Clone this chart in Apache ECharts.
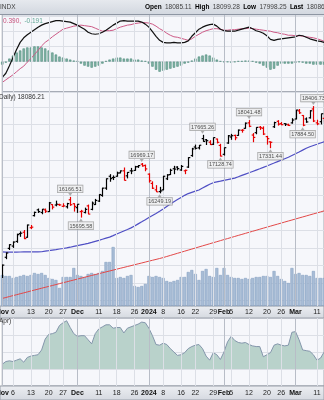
<!DOCTYPE html>
<html><head><meta charset="utf-8">
<script src="https://cdn.jsdelivr.net/npm/echarts@6/dist/echarts.min.js"></script>
<style>html,body{margin:0;padding:0;background:#fff}#c{width:324px;height:400px}</style>
</head><body><div id="c"></div>
<script>
const dates = ['2023-11-01','2023-11-02','2023-11-03',
'2023-11-06','2023-11-07','2023-11-08','2023-11-09','2023-11-10',
'2023-11-13','2023-11-14','2023-11-15','2023-11-16','2023-11-17',
'2023-11-20','2023-11-21','2023-11-22','2023-11-24',
'2023-11-27','2023-11-28','2023-11-29','2023-11-30','2023-12-01',
'2023-12-04','2023-12-05','2023-12-06','2023-12-07','2023-12-08',
'2023-12-11','2023-12-12','2023-12-13','2023-12-14','2023-12-15',
'2023-12-18','2023-12-19','2023-12-20','2023-12-21','2023-12-22',
'2023-12-26','2023-12-27','2023-12-28','2023-12-29',
'2024-01-02','2024-01-03','2024-01-04','2024-01-05',
'2024-01-08','2024-01-09','2024-01-10','2024-01-11','2024-01-12',
'2024-01-16','2024-01-17','2024-01-18','2024-01-19',
'2024-01-22','2024-01-23','2024-01-24','2024-01-25','2024-01-26',
'2024-01-29','2024-01-30','2024-01-31','2024-02-01','2024-02-02',
'2024-02-05','2024-02-06','2024-02-07','2024-02-08','2024-02-09',
'2024-02-12','2024-02-13','2024-02-14','2024-02-15','2024-02-16',
'2024-02-20','2024-02-21','2024-02-22','2024-02-23',
'2024-02-26','2024-02-27','2024-02-28','2024-02-29','2024-03-01',
'2024-03-04','2024-03-05','2024-03-06','2024-03-07','2024-03-08',
'2024-03-11','2024-03-12','2024-03-13'];

const opens = [14440,14830,15020,15070,15170,15340,15370,15260,15470,15740,
15870,15810,15870,15830,15990,15980,15990,15950,15940,16100,
16010,15920,15830,15810,15960,15880,15990,16070,16200,16370,
16650,16620,16650,16730,16780,16660,16780,16790,16880,16940,
16910,16700,16480,16330,16290,16330,16590,16690,16830,16870,
16800,16780,16870,17150,17360,17340,17570,17540,17480,17430,
17560,17400,17180,17460,17610,17650,17650,17780,17830,17970,
17660,17720,17860,17830,17620,17490,17870,18010,17950,17950,
17920,17970,18070,18280,18160,18070,18100,18330,17970,18000,18085.11];
const highs = [14680,14935,15110,15170,15340,15390,15420,15540,15530,15830,
15900,15890,15900,16050,16000,16080,16010,16020,16030,16166.51,
16020,16000,15870,15920,15990,16060,16120,16230,16380,16600,
16700,16670,16760,16790,16860,16750,16850,16900,16920,16969.17,
16930,16720,16530,16440,16400,16660,16700,16830,16900,16890,
16920,16810,17110,17340,17420,17410,17665.26,17560,17530,17600,
17570,17440,17350,17660,17690,17670,17800,17810,17980,18041.48,
17710,17860,17890,17880,17640,17500,18000,18040,17990,17960,
17950,18090,18310,18330,18170,18110,18300,18406.73,18050,18210,18099.28];
const lows = [14400,14790,14985,15030,15140,15270,15220,15250,15440,15720,
15800,15770,15800,15820,15880,15950,15960,15930,15900,15960,
15830,15800,15695.58,15790,15770,15860,15980,16050,16170,16330,
16520,16560,16640,16720,16550,16600,16700,16780,16850,16880,
16770,16500,16350,16280,16249.19,16320,16560,16680,16700,16790,
16780,16700,16850,17120,17300,17300,17490,17410,17410,17410,
17450,17128.74,17150,17440,17540,17530,17640,17720,17820,17860,
17480,17680,17790,17660,17420,17331.44,17840,17900,17910,17890,
17890,17950,18060,18200,17884.50,17970,18080,17990,17910,17930,17998.25];
const closes = [14665,14921,15099,15156,15318,15349,15231,15530,15482,15812,
15830,15885,15839,16028,15932,15998,15982,15960,16012,15987,
15948,15997,15839,15880,15774,16023,16085,16221,16370,16591,
16594,16623,16727,16778,16553,16742,16777,16878,16906,16898,
16826,16543,16368,16283,16305,16650,16681,16792,16821,16833,
16886,16792,17100,17314,17329,17405,17499,17518,17421,17596,
17477,17137,17344,17642,17643,17592,17785,17783,17962,17882,
17600,17854,17845,17685,17569,17478,17976,17937,17923,17936,
17904,18043,18302,18229,17910,17994,18282,18018,17945,18206,18086.21];
const volumes = [1550,1500,1500,1400,1450,1500,1550,1500,1550,1650,
1600,1650,1550,1400,1350,1300,900,1450,1450,1450,
1900,1550,1500,1450,1600,1650,1600,1650,1750,2200,
2200,2950,1400,1450,1400,1500,1550,1000,950,1000,
1100,1500,1450,1500,1450,1400,1250,1200,1250,1300,
1450,1450,1700,1800,1600,1300,1750,1850,1500,1450,
1900,1550,1900,1550,1450,1400,1400,1350,1400,1350,
1400,1450,1450,1500,1500,1450,1750,1500,1350,1250,
1150,1900,1600,1650,1550,1550,1500,1750,1400,1400,1400];
const ma50 = [14943,14941,14940,14940,14941,14942,14943,14944,14944,14945,
14946,14948,14960,14971,14983,14994,15006,15017,15029,15045,
15062,15078,15095,15111,15128,15148,15171,15194,15218,15241,
15264,15297,15331,15365,15399,15432,15467,15507,15555,15601,
15648,15696,15743,15789,15836,15887,15945,16001,16054,16104,
16153,16202,16243,16271,16299,16327,16372,16417,16462,16498,
16516,16534,16553,16571,16589,16607,16638,16670,16702,16733,
16765,16797,16829,16862,16896,16932,16967,17003,17037,17073,
17109,17152,17195,17239,17284,17328,17368,17398,17428,17459,17489];
const ma200 = [13984,14002,14021,14040,14058,14077,14095,14114,14133,14152,
14170,14189,14207,14226,14244,14263,14282,14301,14319,14338,
14356,14375,14393,14412,14431,14450,14468,14487,14505,14524,
14542,14561,14580,14599,14617,14636,14654,14673,14692,14710,
14729,14748,14767,14785,14804,14824,14847,14869,14892,14915,
14937,14960,14983,15005,15028,15051,15074,15096,15119,15142,
15164,15187,15210,15232,15255,15278,15301,15323,15346,15369,
15391,15414,15437,15460,15482,15505,15528,15550,15573,15596,
15619,15641,15664,15687,15709,15732,15755,15778,15800,15823,15846];
const macdLine = [-0.31,-0.23,-0.08,0.08,0.24,0.38,0.47,0.53,0.58,0.63,
0.68,0.72,0.75,0.77,0.79,0.81,0.81,0.80,0.79,0.78,
0.75,0.72,0.68,0.64,0.58,0.55,0.54,0.55,0.58,0.62,
0.67,0.72,0.76,0.80,0.81,0.80,0.80,0.80,0.80,0.78,
0.74,0.68,0.59,0.50,0.42,0.38,0.37,0.37,0.38,0.37,
0.37,0.38,0.41,0.50,0.57,0.64,0.68,0.71,0.73,0.74,
0.70,0.64,0.61,0.60,0.60,0.60,0.62,0.64,0.66,0.68,
0.65,0.61,0.59,0.56,0.51,0.44,0.42,0.44,0.45,0.46,
0.47,0.48,0.49,0.52,0.51,0.48,0.45,0.43,0.41,0.40,0.38];
const signalLine = [-0.41,-0.36,-0.31,-0.26,-0.20,-0.14,-0.09,-0.01,0.06,0.14,
0.22,0.31,0.38,0.43,0.49,0.54,0.59,0.64,0.66,0.68,
0.70,0.71,0.72,0.71,0.70,0.69,0.66,0.63,0.60,0.61,
0.61,0.62,0.65,0.68,0.70,0.72,0.73,0.75,0.76,0.77,
0.77,0.76,0.74,0.70,0.65,0.61,0.56,0.52,0.49,0.48,
0.46,0.44,0.42,0.45,0.50,0.54,0.58,0.61,0.63,0.65,
0.65,0.64,0.62,0.62,0.63,0.63,0.64,0.65,0.65,0.66,
0.65,0.64,0.63,0.62,0.61,0.60,0.58,0.57,0.55,0.54,
0.52,0.52,0.51,0.51,0.50,0.49,0.48,0.47,0.45,0.43,0.40];
const histogram = [-0.06,-0.02,0.06,0.12,0.18,0.22,0.26,0.28,0.28,0.30,
0.30,0.28,0.26,0.22,0.18,0.14,0.10,0.08,0.06,0.04,
0.02,0.01,-0.04,-0.08,-0.10,-0.12,-0.10,-0.08,-0.04,0.01,
0.04,0.06,0.08,0.08,0.06,0.06,0.06,0.04,0.04,0.02,
0.01,-0.04,-0.10,-0.16,-0.20,-0.18,-0.16,-0.14,-0.12,-0.10,
-0.08,-0.04,-0.02,0.02,0.06,0.10,0.12,0.14,0.12,0.08,
0.04,0.01,-0.01,-0.01,-0.02,-0.01,0.01,0.01,0.02,0.02,
0.01,-0.02,-0.04,-0.08,-0.12,-0.16,-0.14,-0.08,-0.04,-0.04,
-0.04,-0.04,-0.02,-0.01,-0.02,-0.04,-0.04,-0.06,-0.06,-0.06,-0.06];
const lowerValues = [7,11,12,11,13,15,10,17,19,20,
21,28,44,51,52,54,64,68,71,61,
52,48,49,49,43,37,52,59,62,65,
65,60,61,61,53,60,62,64,66,69,
68,60,49,36,35,38,36,30,25,20,
21,24,30,33,35,36,30,19,13,24,
21,14,25,40,48,42,39,38,39,36,
34,33,33,18,21,24,35,37,35,34,
35,54,55,43,28,27,26,21,13,16,25];
const tickDates = ['2023-11-01','2023-11-06','2023-11-13','2023-11-20','2023-11-27','2023-12-01','2023-12-11','2023-12-18','2023-12-26','2024-01-02','2024-01-08','2024-01-16','2024-01-22','2024-01-29','2024-02-01','2024-02-05','2024-02-12','2024-02-20','2024-02-26','2024-03-01','2024-03-11'];
const tickTexts = ['Nov','6','13','20','27','Dec','11','18','26','2024','8','16','22','29','Feb','5','12','20','26','Mar','11'];
const monthDates = ['2023-11-01','2023-12-01','2024-01-02','2024-02-01','2024-03-01'];
const peakLabels = [['2023-11-29',16166.51],['2023-12-28',16969.17],['2024-01-24',17665.26],['2024-02-12',18041.48],['2024-03-08',18406.73]];
const troughLabels = [['2023-12-04',15695.58],['2024-01-05',16249.19],['2024-01-31',17128.74],['2024-02-21',17331.44],['2024-03-05',17884.50]];
const quoteLabels = ['Open','High','Low','Last'];
const macdLegend = ['0.390,', '-0.191'];

const FONT = '"Liberation Sans", Arial, sans-serif';
const tickMap = {};
tickDates.forEach((d, i) => { tickMap[d] = tickTexts[i]; });
const isMonth = d => monthDates.indexOf(d) >= 0;
const isWeek = d => tickMap[d] !== undefined && !isMonth(d);

const GL = 2.27, GW = 321.84;
const BG = '#f6f7fb', GRID_C = '#dcdfe6', MONTH_C = '#b8bdc7', BORDER_C = '#8d939e';

function xAx(gridIndex, kind, labels, margin) {
  return {
    type: 'category', gridIndex, data: dates, boundaryGap: false, z: 5,
    axisLine: {show: false}, axisTick: {show: false},
    axisLabel: labels ? {
      show: true, margin, fontSize: 7, fontFamily: FONT, color: '#222',
      interval: (i, v) => tickMap[v] !== undefined,
      formatter: v => isMonth(v) ? '{b|' + tickMap[v] + '}' : (tickMap[v] || ''),
      rich: {b: {fontWeight: 'bold', fontSize: 7, fontFamily: FONT, color: '#111'}}
    } : {show: false},
    splitLine: kind ? {
      show: true,
      interval: (i, v) => kind === 'month' ? isMonth(v) : isWeek(v),
      lineStyle: {color: kind === 'month' ? MONTH_C : GRID_C, width: 1}
    } : {show: false}
  };
}

const ohlcData = dates.map((d, i) => [i, opens[i], highs[i], lows[i], closes[i], (i > 0 && closes[i] < closes[i - 1]) ? 1 : 0]);

function renderOHLC(params, api) {
  const i = api.value(0);
  const hi = api.coord([i, api.value(2)]);
  const lo = api.coord([i, api.value(3)]);
  const op = api.coord([i, api.value(1)]);
  const cl = api.coord([i, api.value(4)]);
  const x = Math.round(hi[0]) + 0.5;
  const color = api.value(5) ? '#e80000' : '#000000';
  const s = {stroke: color, lineWidth: 1.2};
  return {type: 'group', children: [
    {type: 'line', shape: {x1: x, y1: hi[1], x2: x, y2: lo[1]}, style: s},
    {type: 'line', shape: {x1: x - 1.8, y1: op[1], x2: x, y2: op[1]}, style: s},
    {type: 'line', shape: {x1: x, y1: cl[1], x2: x + 1.8, y2: cl[1]}, style: s}
  ]};
}

const labelStyle = {
  show: true, fontSize: 5.5, fontFamily: FONT, color: '#222',
  backgroundColor: '#eeeeef', borderColor: '#8a8a8a', borderWidth: 0.6,
  padding: [1, 1, 0, 1], lineHeight: 6,
  formatter: p => p.value[1].toFixed(2)
};

const n = closes.length - 1;
const quoteValues = [opens[n], highs[n], lows[n], closes[n]].map(v => v.toFixed(2));
const headerText = quoteLabels.map((l, i) => '{b|' + l + '} {v|' + quoteValues[i] + '}').join(' ');

const option = {
  animation: false,
  textStyle: {fontFamily: FONT},
  grid: [
    {left: GL, width: GW, top: 15, height: 77, show: true, backgroundColor: BG, borderColor: BORDER_C, borderWidth: 1, outerBoundsMode: 'none'},
    {left: GL, width: GW, top: 92, height: 214, show: true, backgroundColor: BG, borderColor: BORDER_C, borderWidth: 1, outerBoundsMode: 'none'},
    {left: GL, width: GW, top: 92, height: 208.6, show: false, outerBoundsMode: 'none'},
    {left: GL, width: GW, top: 318, height: 68, show: true, backgroundColor: BG, borderColor: BORDER_C, borderWidth: 1, outerBoundsMode: 'none'}
  ],
  xAxis: [
    xAx(0, 'week', false),
    xAx(1, 'week', true, 3),
    xAx(2, null, false),
    xAx(3, 'week', true, 4),
    xAx(0, 'month', false),
    xAx(1, 'month', false),
    xAx(3, 'month', false)
  ],
  yAxis: [
    {type: 'value', gridIndex: 0, min: -0.6, max: 0.92, interval: 0.3,
      axisLine: {show: false}, axisTick: {show: false}, axisLabel: {show: false},
      splitLine: {show: true, lineStyle: {color: GRID_C}}},
    {type: 'log', logBase: 10, gridIndex: 1, min: 13833, max: 18780, show: false},
    {type: 'value', gridIndex: 1, min: 0, max: 10700, show: false},
    {type: 'value', gridIndex: 2, min: 0, max: 11.85, interval: 1,
      axisLine: {show: false}, axisTick: {show: false}, axisLabel: {show: false},
      splitLine: {show: true, lineStyle: {color: GRID_C}}},
    {type: 'value', gridIndex: 3, min: -25, max: 75, interval: 25,
      axisLine: {show: false}, axisTick: {show: false}, axisLabel: {show: false},
      splitLine: {show: true, lineStyle: {color: GRID_C}}}
  ],
  series: [
    {type: 'bar', name: 'Histogram', xAxisIndex: 0, yAxisIndex: 0, data: histogram, barWidth: 2.4,
      itemStyle: {color: '#82b4a6', borderColor: '#4f8c7c', borderWidth: 0.6}, silent: true},
    {type: 'line', name: 'MACD', xAxisIndex: 0, yAxisIndex: 0, data: macdLine, symbol: 'none',
      lineStyle: {color: '#111', width: 1.2}, silent: true, z: 4},
    {type: 'line', name: 'Signal', xAxisIndex: 0, yAxisIndex: 0, data: signalLine, symbol: 'none',
      lineStyle: {color: '#cc5a86', width: 1}, silent: true, z: 3},
    {type: 'bar', name: 'Volume', xAxisIndex: 1, yAxisIndex: 2, data: volumes, barWidth: 3,
      itemStyle: {color: '#a8bdd6', borderColor: '#7d99bc', borderWidth: 0.5}, silent: true},
    {type: 'line', name: 'MA200', xAxisIndex: 1, yAxisIndex: 1, data: ma200, symbol: 'none',
      lineStyle: {color: '#e24848', width: 1}, silent: true, z: 3},
    {type: 'line', name: 'MA50', xAxisIndex: 1, yAxisIndex: 1, data: ma50, symbol: 'none',
      lineStyle: {color: '#4f4fc4', width: 1.2}, silent: true, z: 3},
    {type: 'custom', name: 'Price', xAxisIndex: 1, yAxisIndex: 1, data: ohlcData,
      encode: {x: 0, y: [1, 2, 3, 4]}, renderItem: renderOHLC, clip: true, silent: true, z: 5},
    {type: 'scatter', name: 'Peaks', xAxisIndex: 1, yAxisIndex: 1, data: peakLabels,
      symbol: 'triangle', symbolRotate: 180, symbolSize: [4, 3], symbolOffset: [0, -2.5],
      itemStyle: {color: '#9a9a9a'}, silent: true, z: 6,
      label: Object.assign({position: 'top', distance: 0.5}, labelStyle)},
    {type: 'scatter', name: 'Troughs', xAxisIndex: 1, yAxisIndex: 1, data: troughLabels,
      symbol: 'triangle', symbolSize: [4, 3], symbolOffset: [0, 2.5],
      itemStyle: {color: '#9a9a9a'}, silent: true, z: 6,
      label: Object.assign({position: 'bottom', distance: 0.5}, labelStyle)},
    {type: 'line', name: 'Lower', xAxisIndex: 3, yAxisIndex: 4, data: lowerValues, symbol: 'none',
      lineStyle: {color: '#8496ab', width: 1},
      areaStyle: {color: '#b9d2cb', opacity: 1, origin: 0}, silent: true}
  ],
  graphic: [
    {type: 'rect', z: 1, shape: {x: 0, y: 0, width: 324, height: 14},
      style: {fill: {type: 'linear', x: 0, y: 0, x2: 0, y2: 1, colorStops: [{offset: 0, color: '#e6e9ee'}, {offset: 1, color: '#d3d8e0'}]}}},
    {type: 'line', z: 2, shape: {x1: 0, y1: 14.5, x2: 324, y2: 14.5}, style: {stroke: '#8e96a3', lineWidth: 1}},
    {type: 'text', z: 10, style: {text: 'INDX', x: 0, y: 7, verticalAlign: 'middle', font: '6.5px ' + FONT, fill: '#444'}},
    {type: 'text', z: 10, style: {text: headerText, x: 145, y: 7.5, verticalAlign: 'middle',
      rich: {b: {font: 'bold 6.5px ' + FONT, fill: '#000'}, v: {font: '6.5px ' + FONT, fill: '#444'}}}},
    {type: 'text', z: 10, style: {text: '{p|' + macdLegend[0] + '} {t|' + macdLegend[1] + '}', x: 3, y: 21, verticalAlign: 'middle',
      rich: {p: {font: '6.5px ' + FONT, fill: '#c8507c'}, t: {font: '6.5px ' + FONT, fill: '#62a696'}}}},
    {type: 'text', z: 10, style: {text: 'Daily) 18086.21', x: -1, y: 97.5, verticalAlign: 'middle', font: '6.5px ' + FONT, fill: '#333'}},
    {type: 'rect', z: 1, shape: {x: 0, y: 306, width: 324, height: 12},
      style: {fill: {type: 'linear', x: 0, y: 0, x2: 0, y2: 1, colorStops: [{offset: 0, color: '#eceef2'}, {offset: 1, color: '#d5d9e0'}]}, stroke: '#9aa0aa', lineWidth: 1}},
    {type: 'text', z: 10, style: {text: 'Apr)', x: -1, y: 321.5, verticalAlign: 'middle', font: '6.5px ' + FONT, fill: '#333'}},
    {type: 'rect', z: 1, shape: {x: 0, y: 386, width: 324, height: 14},
      style: {fill: {type: 'linear', x: 0, y: 0, x2: 0, y2: 1, colorStops: [{offset: 0, color: '#eceef2'}, {offset: 1, color: '#d5d9e0'}]}, stroke: '#9aa0aa', lineWidth: 1}}
  ]
};
const chart = echarts.init(document.getElementById('c'), null, {renderer: 'canvas'});
chart.setOption(option);
</script>
</body></html>
